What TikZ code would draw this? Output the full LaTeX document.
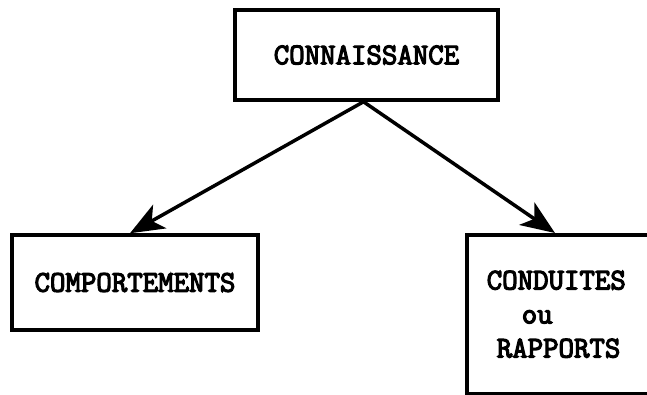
\documentclass[tikz,border=0pt]{standalone}
\usepackage{fontspec}
\newfontfamily\typew[AutoFakeBold=4]{Latin Modern Mono}
\usetikzlibrary{arrows.meta}
\begin{document}
\begin{tikzpicture}[x=1pt,y=-1pt,
  box/.style={draw=black, line width=3.5pt, rectangle, inner sep=0pt,
    font=\typew\bfseries\fontsize{30}{34}\selectfont},
  link/.style={line width=3.5pt, -{Stealth[length=34pt,width=27pt,inset=9pt]}}]
  \useasboundingbox (0,0) rectangle (647,394);
  \node[box, minimum width=263pt, minimum height=90pt] (know) at (366.5,55) {CONNAISSANCE};
  \node[box, minimum width=246pt, minimum height=95pt] (comp) at (135,282.5) {COMPORTEMENTS};
  \node[box, anchor=north west, minimum height=159pt, text width=220pt, inner xsep=20pt, align=left] (cond) at (465,233)
    {CONDUITES\\\hspace*{35pt}ou\\\hspace*{10pt}RAPPORTS};
  \draw[link] ([xshift=-3pt]know.south) -- ([xshift=-5pt]comp.north);
  \draw[link] ([xshift=-3pt]know.south) -- ([xshift=90pt]cond.north west);
\end{tikzpicture}
\end{document}
